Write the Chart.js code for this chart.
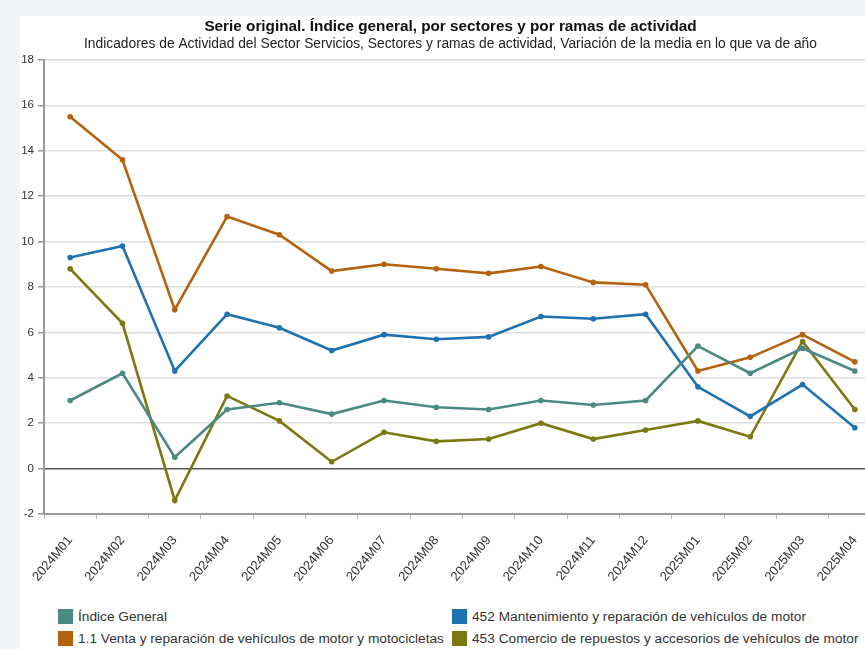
<!DOCTYPE html>
<html>
<head>
<meta charset="utf-8">
<script src="https://cdn.jsdelivr.net/npm/chart.js@4.4.1/dist/chart.umd.min.js"></script>
<style>
  html, body { margin: 0; padding: 0; width: 865px; height: 649px; overflow: hidden; background: #f1f5f7; font-family: "Liberation Sans", Arial, sans-serif; }
  #panel { position: absolute; left: 20px; top: 16px; width: 900px; height: 640px; background: #fff; }
  #wrap { position: absolute; left: 20px; top: 16px; width: 866px; height: 580px; }
  #legend { position: absolute; left: 58px; top: 609px; width: 820px; font-size: 13.7px; color: #333; }
  .item { position: absolute; display: flex; align-items: center; white-space: nowrap; }
  .box { width: 15px; height: 15px; margin-right: 5px; }
</style>
</head>
<body>
<div id="panel"></div>
<div id="wrap"><canvas id="myChart"></canvas></div>
<div id="legend"></div>
<script>
const labels = ['2024M01', '2024M02', '2024M03', '2024M04', '2024M05', '2024M06', '2024M07', '2024M08',
  '2024M09', '2024M10', '2024M11', '2024M12', '2025M01', '2025M02', '2025M03', '2025M04'];

const indiceGeneral = [3.0, 4.2, 0.5, 2.6, 2.9, 2.4, 3.0, 2.7, 2.6, 3.0, 2.8, 3.0, 5.4, 4.2, 5.3, 4.3];
const ventaReparacion = [15.5, 13.6, 7.0, 11.1, 10.3, 8.7, 9.0, 8.8, 8.6, 8.9, 8.2, 8.1, 4.3, 4.9, 5.9, 4.7];
const mantenimiento = [9.3, 9.8, 4.3, 6.8, 6.2, 5.2, 5.9, 5.7, 5.8, 6.7, 6.6, 6.8, 3.6, 2.3, 3.7, 1.8];
const repuestos = [8.8, 6.4, -1.4, 3.2, 2.1, 0.3, 1.6, 1.2, 1.3, 2.0, 1.3, 1.7, 2.1, 1.4, 5.6, 2.6];

const seriesNames = ['Índice General', '1.1 Venta y reparación de vehículos de motor y motocicletas',
  '452 Mantenimiento y reparación de vehículos de motor', '453 Comercio de repuestos y accesorios de vehículos de motor'];
const seriesColors = ['#4b8a82', '#b5620f', '#1f72b0', '#7b7a12'];
const seriesData = [indiceGeneral, ventaReparacion, mantenimiento, repuestos];

const yTicks = [-2, 0, 2, 4, 6, 8, 10, 12, 14, 16, 18];

document.addEventListener('DOMContentLoaded', function () {
  const datasets = [];
  for (let i = 0; i < seriesData.length; i++) {
    datasets.push({
      label: seriesNames[i],
      data: seriesData[i],
      borderColor: seriesColors[i],
      backgroundColor: seriesColors[i],
      borderWidth: 2.6,
      pointRadius: 2.8,
      pointBorderWidth: 0,
      tension: 0,
      fill: false
    });
  }

  const ctx = document.getElementById('myChart').getContext('2d');
  const myChart = new Chart(ctx, {
    type: 'line',
    data: { labels: labels, datasets: datasets },
    options: {
      responsive: true,
      maintainAspectRatio: false,
      animation: false,
      layout: { padding: { left: 0, right: 5, top: 0, bottom: 0 } },
      plugins: {
        legend: { display: false },
        tooltip: { enabled: false },
        title: {
          display: true,
          text: 'Serie original. Índice general, por sectores y por ramas de actividad',
          color: '#111',
          font: { family: '"Liberation Sans", Arial, sans-serif', size: 15.3, weight: 'bold' },
          padding: { top: 2, bottom: 0 }
        },
        subtitle: {
          display: true,
          text: 'Indicadores de Actividad del Sector Servicios, Sectores y ramas de actividad, Variación de la media en lo que va de año',
          color: '#222',
          font: { family: '"Liberation Sans", Arial, sans-serif', size: 13.8 },
          padding: { top: 0, bottom: 7 }
        }
      },
      scales: {
        x: {
          offset: true,
          afterFit: function (scale) { scale.height = 82; },
          grid: { drawOnChartArea: false, drawTicks: true, tickLength: 5, tickColor: '#bbb', offset: true },
          border: { color: '#999', width: 2 },
          ticks: {
            color: '#333',
            minRotation: 50,
            maxRotation: 50,
            padding: 14,
            font: { family: '"Liberation Sans", Arial, sans-serif', size: 13 }
          }
        },
        y: {
          min: -2,
          max: 18,
          afterFit: function (scale) { scale.width = 24; },
          afterBuildTicks: function (scale) { scale.ticks = yTicks.map(v => ({ value: v })); },
          grid: {
            color: ctx => ctx.tick && ctx.tick.value === 0 ? '#555' : '#dedede',
            lineWidth: 1.5,
            tickLength: 6,
            tickColor: '#999'
          },
          border: { color: '#999', width: 2 },
          ticks: {
            color: '#333',
            padding: 4,
            font: { family: '"Liberation Sans", Arial, sans-serif', size: 11.5 }
          }
        }
      }
    }
  });

  // legend in two columns, built from the datasets
  const legend = document.getElementById('legend');
  const colX = [0, 394];
  const rowY = [0, 22];
  const order = [0, 1, 2, 3];
  order.forEach(function (di, k) {
    const ds = myChart.data.datasets[di];
    const item = document.createElement('div');
    item.className = 'item';
    item.style.left = colX[Math.floor(k / 2)] + 'px';
    item.style.top = rowY[k % 2] + 'px';
    const box = document.createElement('span');
    box.className = 'box';
    box.style.background = ds.borderColor;
    const txt = document.createElement('span');
    txt.textContent = ds.label;
    item.appendChild(box);
    item.appendChild(txt);
    legend.appendChild(item);
  });
});
</script>
</body>
</html>
